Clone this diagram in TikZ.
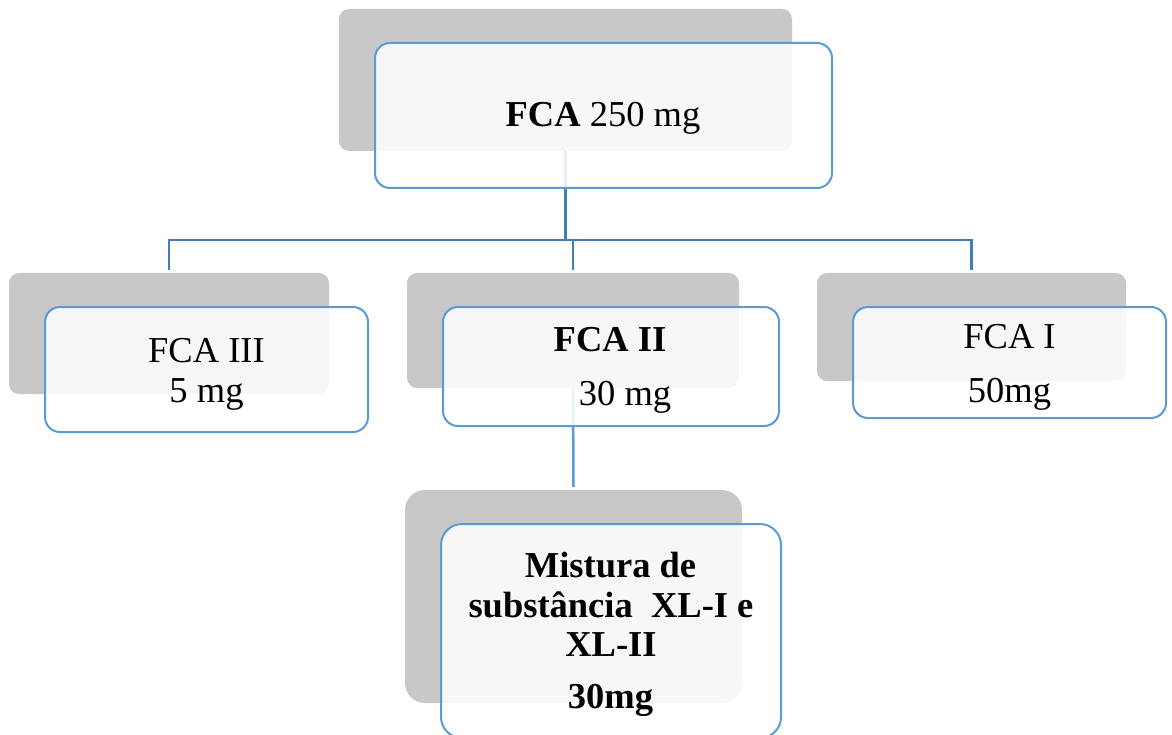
\documentclass[tikz,border=0pt]{standalone}
\usepackage{fontspec}
\setmainfont{Liberation Serif}
\definecolor{shade}{RGB}{200,200,200}
\definecolor{edge}{RGB}{91,155,213}
\definecolor{link}{RGB}{70,124,186}
\begin{document}
\begin{tikzpicture}[x=1pt,y=-1pt,
  back/.style={fill=shade, rounded corners=10pt, inner sep=0pt},
  backbig/.style={back, rounded corners=20pt},
  front/.style={draw=edge, line width=2pt, fill=white, fill opacity=0.87, rounded corners=15pt, inner sep=0pt},
  frontbig/.style={front, rounded corners=21pt},
  lbl/.style={anchor=base, font=\fontsize{36.5}{40}\selectfont, inner sep=0pt},
  blbl/.style={lbl, font=\fontsize{36.5}{40}\selectfont\bfseries},
  conn/.style={draw=link, line width=2.5pt},
  connlow/.style={draw=edge, line width=2.5pt}]
\useasboundingbox (0,0) rectangle (1172,735);
% grey back plates
\node[back, minimum width=453pt, minimum height=142pt] (g0) at (565.5,80) {};
\node[back, minimum width=320pt, minimum height=121pt] (g1) at (169,333.5) {};
\node[back, minimum width=332pt, minimum height=115pt] (g2) at (573,330.5) {};
\node[back, minimum width=309pt, minimum height=108pt] (g3) at (971.5,327) {};
\node[backbig, minimum width=337pt, minimum height=213pt] (g4) at (573.5,596.5) {};
% connectors
\coordinate (j) at (565.5,240);
\draw[conn] (g0.south) -- (g0.south |- j) -| ([yshift=3pt]g1.north);
\draw[conn] (g0.south |- j) -| ([yshift=3pt]g2.north);
\draw[conn] (g0.south |- j) -| ([yshift=3pt]g3.north);
\draw[connlow] (g2.south) -- ([yshift=3pt]g4.north);
% front boxes
\node[front, minimum width=457pt, minimum height=145pt] (w0) at (603.5,115.5) {};
\node[front, minimum width=323pt, minimum height=125pt] (w1) at (206.5,369.5) {};
\node[front, minimum width=336pt, minimum height=119pt] (w2) at (611,366.5) {};
\node[front, minimum width=313pt, minimum height=111pt] (w3) at (1009.5,362.5) {};
\node[frontbig, minimum width=340pt, minimum height=214pt] (w4) at (611,631) {};
% texts
\node[lbl] (t0) at (603,127) {\textbf{FCA} 250 mg};
\node[lbl] (t1a) at (206.5,362) {FCA III};
\node[lbl] (t1b) at (206.5,402) {5 mg};
\node[blbl] (t2a) at (610,351) {FCA II};
\node[lbl] (t2b) at (625,405) {30 mg};
\node[lbl] (t3a) at (1009.5,348) {FCA I};
\node[lbl] (t3b) at (1009.5,402) {50mg};
\node[blbl] (t4a) at (610.5,577) {Mistura de};
\node[blbl] (t4b) at (611,617) {substância\ \ XL-I e};
\node[blbl] (t4c) at (611,656.5) {XL-II};
\node[blbl] (t4d) at (610.5,708) {30mg};
\end{tikzpicture}
\end{document}
